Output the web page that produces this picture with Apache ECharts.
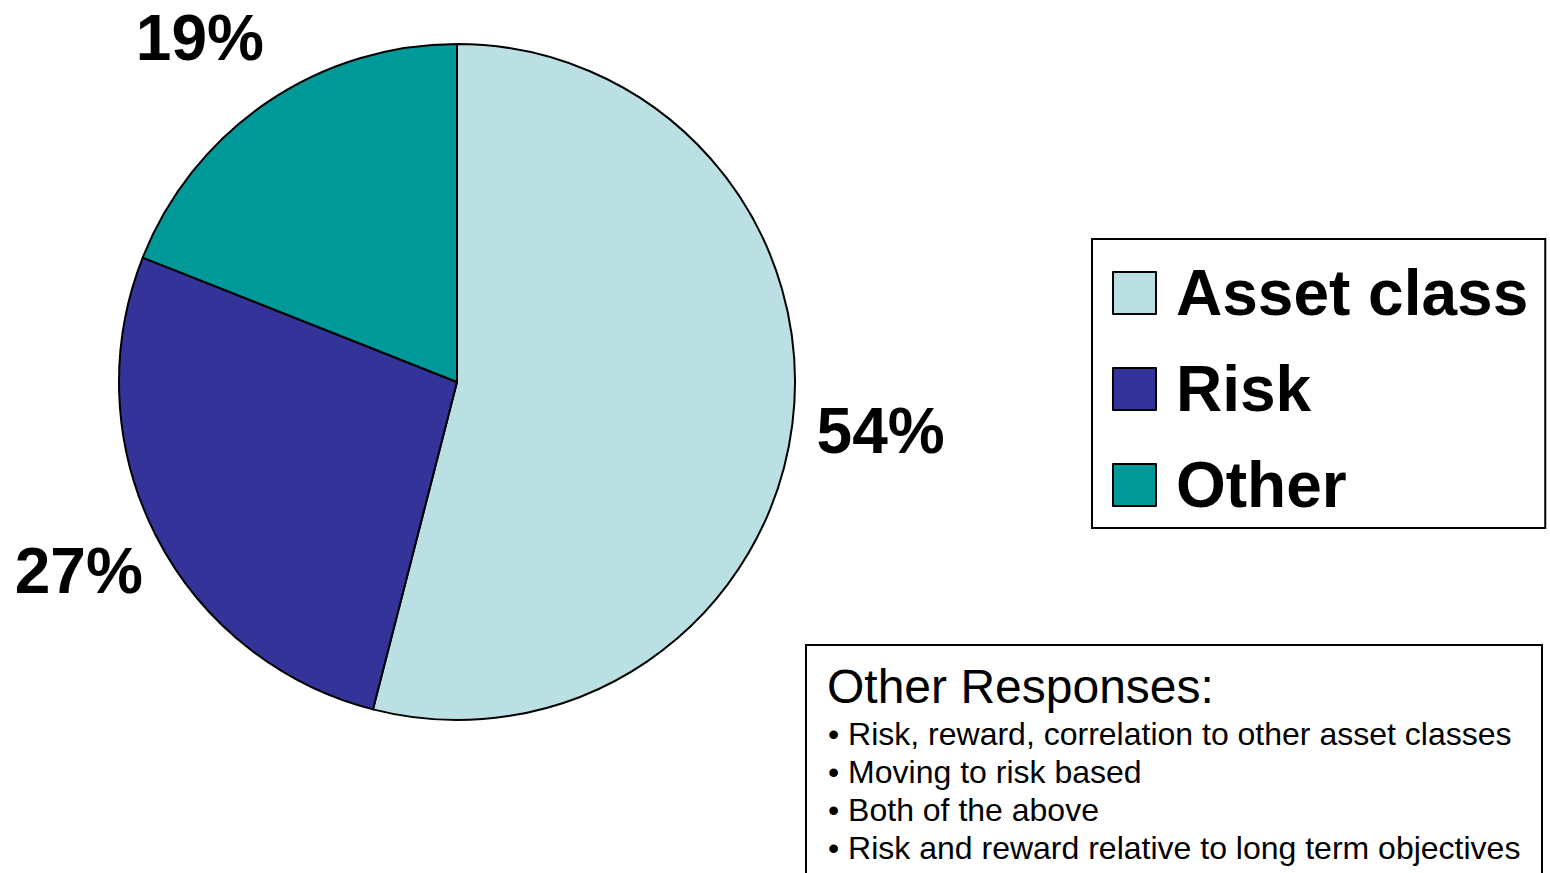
<!DOCTYPE html>
<html>
<head>
<meta charset="utf-8">
<script src="https://cdn.jsdelivr.net/npm/echarts@6/dist/echarts.min.js"></script>
<style>
html,body{margin:0;padding:0;background:#fff;}
#main{width:1550px;height:873px;}
</style>
</head>
<body>
<div id="main"></div>
<script>
const categories = ['Asset class', 'Risk', 'Other'];
const values = [54, 27, 19];
const colors = ['#BBE0E3', '#333399', '#009999'];
const otherTitle = 'Other Responses:';
const otherResponses = [
  'Risk, reward, correlation to other asset classes',
  'Moving to risk based',
  'Both of the above',
  'Risk and reward relative to long term objectives'
];

// label nudges (style only)
const labelNudges = [[-2, -5], [4, -6], [-16, 11]];

const FONT = '"Liberation Sans", Arial, Helvetica, sans-serif';
const chart = echarts.init(document.getElementById('main'), null, {renderer: 'svg'});

const pieData = categories.map((c, i) => ({
  name: c, value: values[i], itemStyle: {color: colors[i]}
}));

const graphics = [
  {type: 'rect', shape: {x: 806, y: 645, width: 736, height: 300},
   style: {fill: '#fff', stroke: '#000', lineWidth: 2}, silent: true},
  {type: 'text', x: 827, y: 686,
   style: {text: otherTitle, font: '48px ' + FONT, fill: '#000', verticalAlign: 'middle', align: 'left'}, silent: true}
];
otherResponses.forEach((t, i) => {
  graphics.push({type: 'text', x: 828, y: 734 + 38 * i,
    style: {text: '\u2022 ' + t, font: '32px ' + FONT, fill: '#000', verticalAlign: 'middle', align: 'left'}, silent: true});
});

chart.setOption({
  animation: false,
  backgroundColor: '#fff',
  legend: {
    orient: 'vertical', left: 1092, top: 239,
    data: categories,
    icon: 'rect', itemWidth: 43, itemHeight: 42, itemGap: 32,
    padding: [22, 17, 11, 20],
    borderColor: '#000', borderWidth: 2,
    selectedMode: false,
    itemStyle: {borderColor: '#000', borderWidth: 2},
    textStyle: {fontFamily: FONT, fontWeight: 'bold', fontSize: 64, color: '#000', padding: [0, 0, 0, 15]}
  },
  series: [
    {
      type: 'pie', center: [457, 382], radius: 338,
      startAngle: 90, clockwise: true,
      label: {show: false}, labelLine: {show: false},
      itemStyle: {borderColor: '#000', borderWidth: 2},
      emphasis: {disabled: true},
      data: pieData
    },
    {
      type: 'pie', center: [457, 382], radius: [338, 514],
      startAngle: 90, clockwise: true, silent: true,
      itemStyle: {color: 'rgba(0,0,0,0)', borderWidth: 0},
      label: {show: true, position: 'inside', formatter: '{c}%', fontFamily: FONT, fontWeight: 'bold', fontSize: 64, color: '#000'},
      labelLine: {show: false},
      emphasis: {disabled: true},
      data: categories.map((c, i) => ({name: c, value: values[i], label: {offset: labelNudges[i]}}))
    }
  ],
  graphic: graphics
});
</script>
</body>
</html>
